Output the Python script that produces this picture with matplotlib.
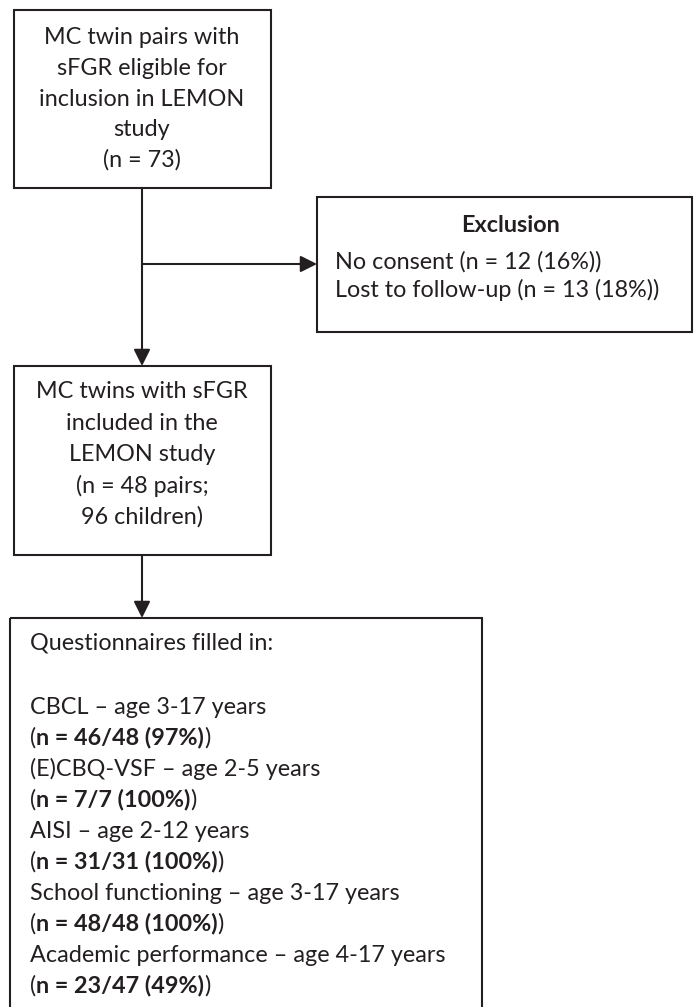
import matplotlib
matplotlib.use("Agg")
import matplotlib.pyplot as plt
from matplotlib.patches import Rectangle

plt.rcParams['font.family'] = ['Lato', 'DejaVu Sans']

# flowchart content
eligible_lines = ["MC twin pairs with", "sFGR eligible for", "inclusion in LEMON", "study", "(n = 73)"]
included_lines = ["MC twins with sFGR", "included in the", "LEMON study", "(n = 48 pairs;", "96 children)"]
exclusion_reasons = ["No consent", "Lost to follow-up"]
exclusion_n = [12, 13]
exclusion_pct = [16, 18]
questionnaires = ["CBCL", "(E)CBQ-VSF", "AISI", "School functioning", "Academic performance"]
age_ranges = ["3-17", "2-5", "2-12", "3-17", "4-17"]
n_filled = [46, 7, 31, 48, 23]
n_eligible = [48, 7, 31, 48, 47]
pct_filled = [97, 100, 100, 100, 49]

ink = "#231f20"
fs = 16.8

fig = plt.figure(figsize=(6.94, 10.07), dpi=100)
ax = fig.add_axes([0, 0, 1, 1])
ax.set_xlim(0, 694)
ax.set_ylim(1007, 0)
ax.axis("off")

def box(x, y, w, h):
    ax.add_patch(Rectangle((x, y), w, h, fill=False, edgecolor=ink, lw=1.5))

def arrow(x0, y0, x1, y1):
    ax.annotate("", xy=(x1, y1), xytext=(x0, y0),
                arrowprops=dict(arrowstyle="-|>,head_length=0.5,head_width=0.25",
                                mutation_scale=20, color=ink, lw=1.5,
                                shrinkA=0, shrinkB=0))

def pieces(x, y, parts):
    renderer = fig.canvas.get_renderer()
    for s, w in parts:
        t = ax.text(x, y, s, fontsize=fs, fontweight=w, color=ink, ha="left", va="center")
        bb = t.get_window_extent(renderer)
        x = ax.transData.inverted().transform((bb.x1, bb.y0))[0]

# boxes
box(14, 10, 257, 178)
box(317, 197, 375, 135)
box(14, 366, 257, 189)
box(10, 618, 472, 450)

# connectors
ax.plot([142, 142], [188, 264], color=ink, lw=1.5)
arrow(142, 264, 317, 264)
arrow(142, 264, 142, 366)
arrow(142, 555, 142, 618)

for i, line in enumerate(eligible_lines):
    ax.text(142, 38 + i * 30.5, line, fontsize=fs, color=ink, ha="center", va="center")

for i, line in enumerate(included_lines):
    ax.text(142, 392 + i * 31.2, line, fontsize=fs, color=ink, ha="center", va="center")

ax.text(511, 225, "Exclusion", fontsize=fs, fontweight="bold", color=ink, ha="center", va="center")
for i, (r, n, p) in enumerate(zip(exclusion_reasons, exclusion_n, exclusion_pct)):
    ax.text(335, 262 + i * 28, f"{r} (n = {n} ({p}%))", fontsize=fs, color=ink, ha="left", va="center")

ax.text(30, 643, "Questionnaires filled in:", fontsize=fs, color=ink, ha="left", va="center")
for i, q in enumerate(questionnaires):
    y = 707 + i * 62
    ax.text(30, y, f"{q} \u2013 age {age_ranges[i]} years", fontsize=fs, color=ink, ha="left", va="center")
    pieces(30, y + 31, [("(", "normal"),
                        (f"n = {n_filled[i]}/{n_eligible[i]} ({pct_filled[i]}%)", "bold"),
                        (")", "normal")])

fig.savefig("out.png", dpi=100)
